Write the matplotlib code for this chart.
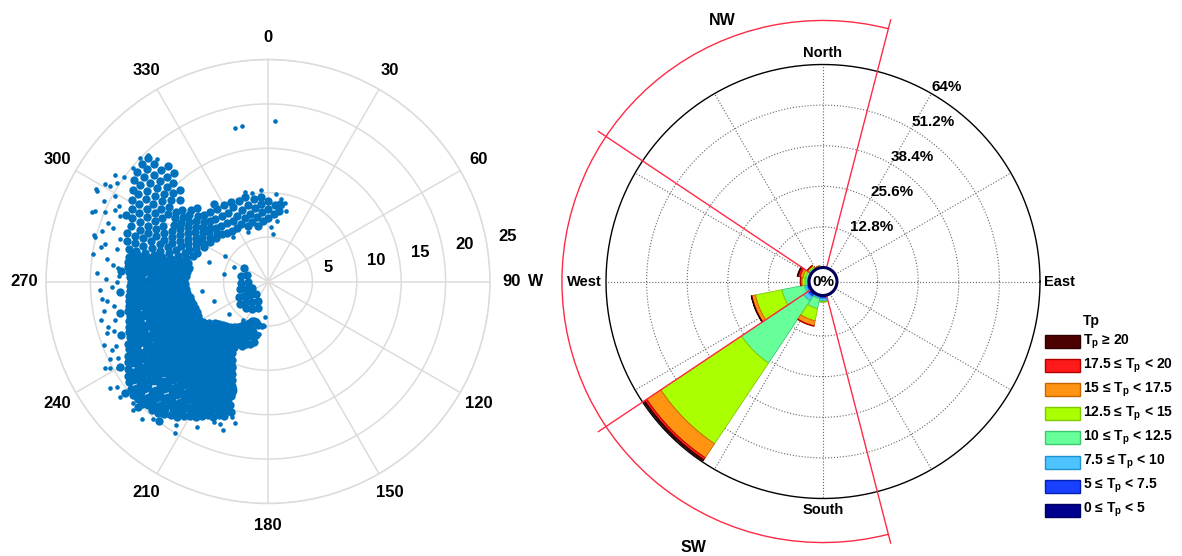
import numpy as np
import matplotlib.pyplot as plt
from matplotlib.patches import Wedge, Circle, Arc, Rectangle
from matplotlib.transforms import offset_copy

plt.rcParams['font.family'] = ['Liberation Sans', 'DejaVu Sans']
plt.rcParams['font.weight'] = 'bold'
plt.rcParams['mathtext.fontset'] = 'custom'
plt.rcParams['mathtext.rm'] = 'Liberation Sans:bold'

W, H = 1182, 556

# ---------------- left panel: (direction deg, period) scatter ----------------
# solid core of the cloud
blob_pts = np.array([
    (200, 6.1), (200, 13.0), (200, 14.4), (200, 15.3),
    (205, 6.1), (205, 7.3), (205, 10.6), (205, 12.0), (205, 13.4), (205, 14.8), (205, 16.0),
    (210, 6.9), (210, 8.3), (210, 9.7), (210, 11.1), (210, 12.5), (210, 13.9), (210, 15.3), (210, 16.7),
    (215, 7.3), (215, 8.7), (215, 10.1), (215, 11.5), (215, 12.9), (215, 14.3), (215, 15.7), (215, 17.1), (215, 17.8),
    (220, 7.7), (220, 9.1), (220, 10.5), (220, 11.9), (220, 13.3), (220, 14.7), (220, 16.1), (220, 17.5), (220, 18.7),
    (225, 8.1), (225, 9.5), (225, 10.9), (225, 12.3), (225, 13.7), (225, 15.1), (225, 16.5), (225, 17.9), (225, 19.0),
    (230, 8.4), (230, 9.8), (230, 11.2), (230, 12.6), (230, 14.0), (230, 15.4), (230, 16.8), (230, 18.2), (230, 19.3),
    (235, 9.1), (235, 10.5), (235, 11.9), (235, 13.3), (235, 14.7), (235, 16.1), (235, 17.5), (235, 18.6),
    (240, 9.8), (240, 11.2), (240, 12.6), (240, 14.0), (240, 15.4), (240, 16.8), (240, 17.5),
    (245, 9.7), (245, 11.1), (245, 12.5), (245, 13.9), (245, 15.3), (245, 16.6),
    (250, 9.6), (250, 11.0), (250, 12.4), (250, 13.8), (250, 15.2), (250, 15.9),
    (255, 9.7), (255, 11.1), (255, 12.5), (255, 13.9), (255, 15.3),
    (260, 9.9), (260, 11.3), (260, 12.7), (260, 14.1), (260, 15.3),
    (265, 10.1), (265, 11.5), (265, 12.9), (265, 14.3), (265, 15.0),
    (270, 10.3), (270, 11.7), (270, 13.1), (270, 14.5), (270, 14.8),
    (275, 10.1), (275, 11.5), (275, 12.9), (275, 14.3), (275, 15.0),
    (280, 9.9), (280, 11.3), (280, 12.7), (280, 14.1), (280, 15.2),
])

# edges of the core, streaks, band and the small cluster near the centre
cloud_pts = np.array([
    # outer edge of the core
    (196, 15.3), (198, 15.9), (200, 16.0), (202, 16.4), (204, 16.5), (206, 16.9), (208, 17.3),
    (210, 17.5), (212, 17.9), (214, 18.4), (216, 18.6), (218, 19.0), (220, 19.3), (222, 19.5),
    (224, 19.4), (226, 19.8), (228, 19.7), (230, 19.9), (232, 19.6), (234, 19.3), (236, 19.0),
    (238, 18.6), (240, 18.2), (242, 17.9), (244, 17.4), (246, 17.2), (248, 16.8), (250, 16.6),
    (252, 16.4), (254, 16.3), (256, 16.0), (258, 16.1), (260, 15.9), (262, 15.8), (264, 15.7),
    (266, 15.6), (268, 15.5), (270, 15.4), (272, 15.6), (274, 15.7), (276, 15.8), (278, 15.9),
    (280, 15.9), (250, 17.6), (258, 17.0), (266, 16.7), (274, 16.6), (240, 19.2), (232, 20.4),
    (226, 20.4), (218, 19.9),
    # right edge and shoulder
    (197, 14.5), (198, 13.5), (199, 12.5), (200, 11.8), (201, 11.2), (203, 10.4), (205, 9.7),
    (207, 9.0), (193, 5.0), (193, 6.2), (193, 7.0), (196, 4.8), (196, 7.3), (199, 4.7),
    (199, 7.5), (202, 4.8), (202, 7.8), (205, 5.1), (208, 5.5), (211, 5.9), (214, 6.2),
    (217, 6.4), (220, 6.7), (223, 6.9), (226, 7.1), (229, 7.3), (232, 7.6), (235, 8.1),
    (238, 8.6), (241, 8.9), (244, 8.8), (247, 8.7), (250, 8.7), (253, 8.8), (256, 8.9),
    (259, 9.0), (262, 9.2), (265, 9.3), (268, 9.4), (271, 9.5), (274, 9.3), (277, 9.2), (280, 9.0),
    # upper part with streaks
    (283, 9.2), (283, 10.2), (283, 11.2), (283, 12.2), (283, 13.2), (283, 14.2), (283, 15.2), (283, 16.1),
    (286, 9.6), (286, 10.6), (286, 11.6), (286, 12.6), (286, 13.6), (286, 14.6), (286, 15.6), (286, 16.5),
    (289, 8.9), (289, 9.9), (289, 10.9), (289, 11.9), (289, 12.9), (289, 13.9), (289, 14.9), (289, 15.9), (289, 16.8),
    (292, 8.6), (292, 9.6), (292, 10.6), (292, 11.6), (292, 12.6), (292, 13.6), (292, 14.6), (292, 15.6), (292, 16.6),
    (295, 8.9), (295, 9.9), (295, 10.9), (295, 11.9), (295, 12.9), (295, 13.9), (295, 14.9), (295, 15.9), (295, 16.9), (295, 17.6),
    (298, 8.2), (298, 9.2), (298, 10.2), (298, 11.2), (298, 12.2), (298, 13.4), (298, 14.4), (298, 15.4), (298, 16.4), (298, 17.4),
    (301, 8.5), (301, 9.5), (301, 10.5), (301, 11.5), (301, 12.4), (301, 13.9), (301, 14.9), (301, 15.9), (301, 16.9), (301, 17.9),
    (304, 7.9), (304, 8.9), (304, 9.9), (304, 10.9), (304, 11.8), (304, 12.7), (304, 13.6), (304, 14.6), (304, 15.6), (304, 16.6), (304, 17.6), (304, 18.4),
    (307, 8.2), (307, 9.2), (307, 10.2), (307, 11.1), (307, 12.0), (307, 13.0), (307, 14.0), (307, 15.0), (307, 16.0), (307, 17.0), (307, 18.0), (307, 18.9),
    (310, 7.6), (310, 8.6), (310, 9.6), (310, 10.6), (310, 11.6), (310, 12.6), (310, 14.3), (310, 15.3), (310, 16.3), (310, 17.3), (310, 18.3), (310, 19.2),
    (313, 7.9), (313, 8.9), (313, 9.9), (313, 10.8), (313, 11.8), (313, 13.5), (313, 14.6), (313, 15.6), (313, 16.6), (313, 17.6), (313, 18.6), (313, 19.4),
    (316, 7.4), (316, 8.4), (316, 9.4), (316, 10.4), (316, 11.5), (316, 14.3), (316, 15.4), (316, 16.4), (316, 17.4), (316, 18.4), (316, 19.4),
    (319, 16.2), (319, 17.2),
    # band towards north
    (320, 7.2), (320, 8.2), (320, 9.2), (320, 10.2),
    (325, 7.0), (325, 8.0), (325, 9.0), (325, 10.0), (325, 10.6),
    (330, 6.9), (330, 7.9), (330, 8.9), (330, 9.9),
    (335, 7.2), (335, 8.2), (335, 9.2), (335, 9.9),
    (340, 6.6), (340, 7.6), (340, 8.6), (340, 9.6),
    (345, 6.9), (345, 7.9), (345, 8.9), (345, 9.8),
    (350, 6.4), (350, 7.4), (350, 8.4), (350, 9.4),
    (355, 6.8), (355, 7.8), (355, 8.8), (355, 9.5),
    (0, 7.2), (0, 8.2), (0, 9.1), (5, 7.6), (5, 8.6), (9, 8.0), (9, 8.8),
    # small cluster near the centre
    (299.1, 3.09), (286.3, 2.5), (281.3, 3.06), (267.5, 2.3), (266.2, 3.0), (248.7, 1.93),
    (252.3, 2.62), (254.3, 3.32), (222.9, 1.91), (233.1, 2.5), (239.3, 3.14), (241.4, 3.76),
    (206.6, 2.46), (218.0, 2.92), (227.4, 3.4), (232.0, 4.06), (200.1, 3.2), (210.1, 3.58), (219.8, 3.9),
])

# scattered single observations
dot_pts = np.array([
    (347.9, 17.7), (350.5, 17.8), (2.5, 18.1),
    (345.6, 10.4), (355.6, 10.3), (350, 10.1), (5, 9.9), (9, 9.4), (12, 9.0), (14, 8.2),
    (10.7, 8.6), (8.4, 6.9), (6.3, 5.4), (3, 6.2), (338, 6.0), (322, 6.4),
    (298.2, 22.0), (291.5, 21.3), (284.4, 20.1), (281.6, 19.2), (300.9, 21.4), (299.2, 19.7),
    (297.9, 21.8), (292.1, 21.0), (301, 20.8), (286, 17.3), (289, 18.5), (295, 19.0),
    (306, 20.0), (310, 19.8), (316.5, 19.6), (318, 18.6), (314, 20.1), (276, 17.5),
    (272, 16.8), (268, 17.6), (263, 18.3), (259.8, 18.8), (252.2, 19.1), (246.3, 19.2),
    (242, 20.8), (241.5, 20.3), (252, 18.2), (235.2, 20.75), (232.1, 21.1), (226.4, 21.0),
    (222.7, 21.0), (217.2, 18.9), (212.5, 19.2), (211.5, 20.0), (198.7, 16.9), (196.8, 17.5),
    (195, 15.8), (193, 16.4), (184.9, 4.0), (187, 4.9), (211.6, 5.3), (190, 6.0), (188, 5.2),
    (236, 21.4), (244, 19.8), (256, 17.8), (228, 20.5), (220, 20.2), (206, 18.2), (201, 17.0),
    (300.3, 5.6), (292.8, 4.1), (288.4, 7.0), (230.7, 5.7), (231.6, 7.4), (212.5, 5.2),
    (184.6, 5.0), (250, 6.5), (262, 7.5), (280, 5.0),
    (240, 19.5), (243, 18.9), (247, 18.6), (249, 19.8), (254, 18.7), (257, 19.3), (261, 17.6),
    (264, 18.8), (267, 19.0), (270, 17.0), (271, 18.2), (273, 19.3), (275, 16.9), (278, 18.3),
    (279, 20.0), (282, 17.4), (283, 18.8), (285, 20.3), (287, 19.6), (290, 19.2), (293, 19.9),
    (294, 18.2), (296, 20.6), (297, 18.8), (303, 20.3), (305, 21.0),
])

r_ticks = [5, 10, 15, 20, 25]
theta_ticks = np.arange(0, 360, 30)
theta_labels = [str(t) for t in theta_ticks]

# ---------------- right panel: wind rose of Tp ----------------
dirs = np.arange(0, 360, 22.5)
tp_0_5 = [0.1, 0.1, 0.1, 0.1, 0.1, 0.1, 0.1, 0.2, 0.3, 0.2, 0.5, 0.3, 0.1, 0.1, 0.1, 0.1]
tp_5_7 = [0, 0, 0, 0, 0, 0, 0, 0.1, 0.6, 0.4, 0.9, 0.5, 0.2, 0.2, 0.1, 0.1]
tp_7_10 = [0, 0, 0, 0, 0, 0, 0, 0, 0.8, 0.5, 1.6, 0.8, 0.3, 0.2, 0.2, 0.1]
tp_10_12 = [0, 0, 0, 0, 0, 0, 0, 0, 0.3, 3.2, 23.5, 7.2, 0.7, 0.7, 0.5, 0.2]
tp_12_15 = [0, 0, 0, 0, 0, 0, 0, 0, 0.1, 3.9, 30.6, 8.5, 0.9, 0.8, 0.5, 0.1]
tp_15_17 = [0, 0, 0, 0, 0, 0, 0, 0, 0, 1.6, 5.3, 1.1, 0.4, 0.9, 0.2, 0.05]
tp_17_20 = [0, 0, 0, 0, 0, 0, 0, 0, 0, 0.2, 0.8, 0.2, 0.2, 0.7, 0.1, 0]
tp_20 = [0, 0, 0, 0, 0, 0, 0, 0, 0, 0, 0.5, 0.1, 0, 0.3, 0, 0]
tp_bins = [tp_0_5, tp_5_7, tp_7_10, tp_10_12, tp_12_15, tp_15_17, tp_17_20, tp_20]
tp_labels = [r'0 ≤ $\mathregular{T_p}$ < 5', r'5 ≤ $\mathregular{T_p}$ < 7.5',
             r'7.5 ≤ $\mathregular{T_p}$ < 10', r'10 ≤ $\mathregular{T_p}$ < 12.5',
             r'12.5 ≤ $\mathregular{T_p}$ < 15', r'15 ≤ $\mathregular{T_p}$ < 17.5',
             r'17.5 ≤ $\mathregular{T_p}$ < 20', r'$\mathregular{T_p}$ ≥ 20']
tp_colors = ['#00008f', '#1a40ff', '#4dc3ff', '#66ff99', '#aaff00', '#ff9412', '#ff1a1a', '#4d0000']
tp_edges = ['#000060', '#0020b0', '#2090d0', '#3cc870', '#80c800', '#c86400', '#b00000', '#2a0000']
ring_pcts = [12.8, 25.6, 38.4, 51.2, 64]
pmax = 64.0
sector_lines = [14.5, 165.5, 236.25, 303.75]
sector_names = ['NW', 'W', 'SW']
sector_angles = [339, 270, 206]

fig = plt.figure(figsize=(W / 100, H / 100), dpi=100)

# ---- left polar scatter ----
ax = fig.add_axes([46 / W, (H - 503.5) / H, 444 / W, 444 / H], projection='polar')
ax.set_theta_zero_location('N')
ax.set_theta_direction(-1)
ax.set_ylim(0, 25)
ax.set_rticks(r_ticks)
ax.set_yticklabels([])
ax.set_thetagrids(theta_ticks, theta_labels, fontsize=12)
ax.tick_params(axis='x', pad=5)
ax.grid(color='#dcdcdc', lw=1.1)
ax.spines['polar'].set_color('#dcdcdc')
ax.spines['polar'].set_linewidth(1.1)
ax.set_axisbelow(True)
blue = '#0072bd'
ax.scatter(np.radians(blob_pts[:, 0]), blob_pts[:, 1], s=130, c=blue, lw=0, zorder=3)
ax.scatter(np.radians(cloud_pts[:, 0]), cloud_pts[:, 1], s=36, c=blue, lw=0, zorder=3)
ax.scatter(np.radians(dot_pts[:, 0]), dot_pts[:, 1], s=11, c=blue, lw=0, zorder=3)
lab_tr = offset_copy(ax.transData, fig=fig, x=12, y=6, units='dots')
for r in r_ticks:
    ax.text(np.radians(80), r, str(r), transform=lab_tr, ha='left', va='center', fontsize=12)

# ---- right wind rose ----
ext = 1.25
R = 217.0
cx, cy = 823.0, 281.5
ax2 = fig.add_axes([(cx - ext * R) / W, (H - cy - ext * R) / H, 2 * ext * R / W, 2 * ext * R / H])
ax2.set_xlim(-ext, ext)
ax2.set_ylim(-ext, ext)
ax2.axis('off')
r0 = 14.0 / R


def rad(p):
    return r0 + (1 - r0) * p / pmax


t = np.linspace(0, 2 * np.pi, 500)
for p in ring_pcts[:-1]:
    ax2.plot(rad(p) * np.cos(t), rad(p) * np.sin(t), ls=':', color='0.4', lw=0.8, zorder=1)
for a in np.radians(np.arange(0, 360, 30)):
    ax2.plot([r0 * np.sin(a), np.sin(a)], [r0 * np.cos(a), np.cos(a)], ls=':', color='0.4', lw=0.8, zorder=1)
ax2.plot(np.cos(t), np.sin(t), color='k', lw=1.0, zorder=4)

base = np.zeros(len(dirs))
for vals, fc, ec in zip(tp_bins, tp_colors, tp_edges):
    vals = np.asarray(vals, float)
    for d, b, v in zip(dirs, base, vals):
        if v <= 0:
            continue
        ri, ro = rad(b), rad(b + v)
        ax2.add_patch(Wedge((0, 0), ro, 90 - d - 11.25, 90 - d + 11.25, width=ro - ri,
                            fc=fc, ec=ec, lw=0.6, zorder=3))
    base = base + vals

for p in ring_pcts:
    a = np.radians(30)
    ax2.text(rad(p) * np.sin(a), rad(p) * np.cos(a), f'{p:g}%', ha='left', va='bottom', fontsize=11, zorder=8)

ax2.text(0, 1.02, 'North', ha='center', va='bottom', fontsize=10.5)
ax2.text(0, -1.02, 'South', ha='center', va='top', fontsize=10.5)
ax2.text(-1.02, 0, 'West', ha='right', va='center', fontsize=10.5)
ax2.text(1.02, 0, 'East', ha='left', va='center', fontsize=10.5)

# sector overlay
red = '#ff2a45'
ax2.add_patch(Arc((0, 0), 2 * 1.203, 2 * 1.203, theta1=90 - sector_lines[0], theta2=450 - sector_lines[1],
                  color=red, lw=1.0, zorder=5, clip_on=False))
for s in sector_lines:
    a = np.radians(s)
    ax2.plot([0, 1.245 * np.sin(a)], [0, 1.245 * np.cos(a)], color=red, lw=1.0, zorder=5, clip_on=False)
for name, ang, rr in zip(sector_names, sector_angles, [1.29, 1.323, 1.363]):
    a = np.radians(ang)
    ax2.text(rr * np.sin(a), rr * np.cos(a), name, ha='center', va='center', fontsize=11.5)

ax2.add_patch(Circle((0, 0), r0, fc='white', ec='#00005a', lw=2.2, zorder=6))
ax2.text(0, 0, '0%', ha='center', va='center', fontsize=11, zorder=7)

# ---- legend ----
lax = fig.add_axes([1040 / W, (H - 525) / H, 142 / W, 215 / H])
lax.set_xlim(0, 142)
lax.set_ylim(215, 0)
lax.axis('off')
lax.text(43, 11, 'Tp', ha='left', va='center', fontsize=10)
for i, (lab, fc, ec) in enumerate(zip(tp_labels[::-1], tp_colors[::-1], tp_edges[::-1])):
    y = 31.5 + i * 24.1
    lax.add_patch(Rectangle((5, y - 6.5), 35, 13, fc=fc, ec=ec, lw=1.0))
    lax.text(43, y, lab, ha='left', va='center', fontsize=10)

fig.savefig('out.png', dpi=100)
